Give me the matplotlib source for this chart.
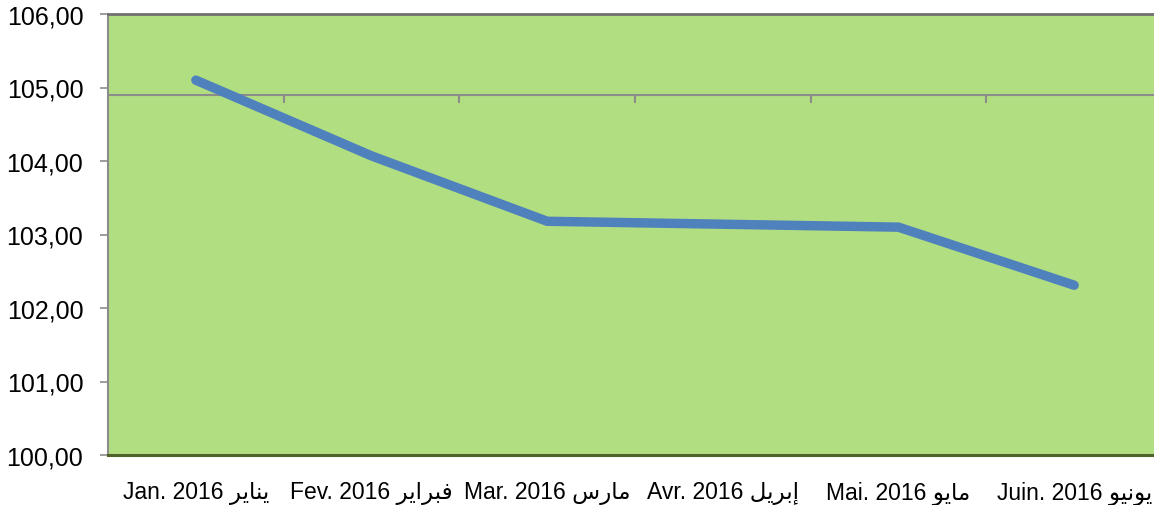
import matplotlib
matplotlib.use("Agg")
import matplotlib.pyplot as plt
import numpy as np

months_fr = ["Jan. 2016", "Fev. 2016", "Mar. 2016", "Avr. 2016", "Mai. 2016", "Juin. 2016"]
months_ar = ["يناير", "فبراير", "مارس", "إبريل", "مايو", "يونيو"]
values = [105.10, 104.07, 103.18, 103.14, 103.10, 102.31]
y_ticks = [100, 101, 102, 103, 104, 105, 106]

# arabic presentation forms: isolated, final, initial, medial
FORMS = {
    "ا": ("\uFE8D", "\uFE8E", None, None),
    "إ": ("\uFE87", "\uFE88", None, None),
    "ب": ("\uFE8F", "\uFE90", "\uFE91", "\uFE92"),
    "ر": ("\uFEAD", "\uFEAE", None, None),
    "س": ("\uFEB1", "\uFEB2", "\uFEB3", "\uFEB4"),
    "ف": ("\uFED1", "\uFED2", "\uFED3", "\uFED4"),
    "ل": ("\uFEDD", "\uFEDE", "\uFEDF", "\uFEE0"),
    "م": ("\uFEE1", "\uFEE2", "\uFEE3", "\uFEE4"),
    "ن": ("\uFEE5", "\uFEE6", "\uFEE7", "\uFEE8"),
    "و": ("\uFEED", "\uFEEE", None, None),
    "ي": ("\uFEF1", "\uFEF2", "\uFEF3", "\uFEF4"),
}


def shape(word):
    out = []
    for i, ch in enumerate(word):
        iso, fin, ini, med = FORMS[ch]
        prev_joins = i > 0 and FORMS[word[i - 1]][2] is not None
        joins_next = i < len(word) - 1 and ini is not None
        if prev_joins and joins_next:
            out.append(med)
        elif prev_joins:
            out.append(fin)
        elif joins_next:
            out.append(ini)
        else:
            out.append(iso)
    return "".join(reversed(out))


labels = [fr + " " + shape(ar) for fr, ar in zip(months_fr, months_ar)]

plt.rcParams["font.family"] = ["Liberation Sans", "DejaVu Sans"]

fig = plt.figure(figsize=(11.54, 5.06), dpi=100)
ax = fig.add_axes([108 / 1154, 50 / 506, 1054 / 1154, 441 / 506])
ax.set_facecolor("#B2DE82")

x = np.arange(len(values))
ax.plot(x, values, color="#4F81BD", linewidth=6.8, solid_capstyle="round",
        solid_joinstyle="miter", zorder=5)

ax.set_xlim(-0.5, len(values) - 0.5)
ax.set_ylim(100, 106)

# category axis crossing near 105
cross = 104.9
ax.axhline(cross, color="#8C8C8C", linewidth=1.5, zorder=2)
ax.vlines(x[:-1] + 0.5, cross - 0.11, cross, color="#8C8C8C", linewidth=1.5, zorder=2)

ax.set_yticks(y_ticks)
ax.set_yticklabels([f"{v:.2f}".replace(".", ",") for v in y_ticks], fontsize=18)
ax.set_xticks(x)
ax.set_xticklabels(labels, fontsize=16.5)
ax.tick_params(axis="x", length=0, pad=19)
ax.tick_params(axis="y", length=5.8, width=1.2, color="#8C8C8C", pad=12)

ax.spines["right"].set_visible(False)
ax.spines["left"].set_color("#8C8C8C")
ax.spines["left"].set_linewidth(1.5)
ax.spines["top"].set_color("#707070")
ax.spines["top"].set_linewidth(2)
ax.spines["bottom"].set_color("#4F6228")
ax.spines["bottom"].set_linewidth(2.2)

fig.savefig("out.png", dpi=100)
